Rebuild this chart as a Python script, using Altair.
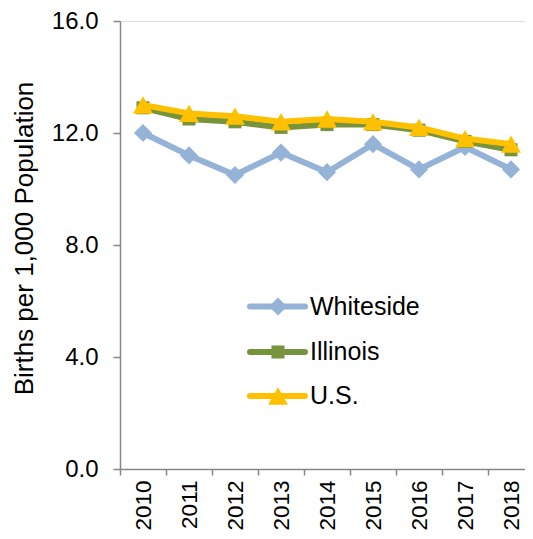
import altair as alt
import pandas as pd

years = ["2010", "2011", "2012", "2013", "2014", "2015", "2016", "2017", "2018"]
whiteside = [12.0, 11.2, 10.5, 11.3, 10.6, 11.6, 10.7, 11.5, 10.7]
illinois = [12.9, 12.5, 12.4, 12.2, 12.3, 12.3, 12.1, 11.7, 11.4]
us = [13.0, 12.7, 12.6, 12.4, 12.5, 12.4, 12.2, 11.8, 11.6]

series_names = ["Whiteside", "Illinois", "U.S."]
series_values = [whiteside, illinois, us]
series_colors = ["#95B3D7", "#77933C", "#FFC000"]
series_shapes = ["diamond", "square", "triangle-up"]
marker_sizes = [330, 170, 400]
y_ticks = [0, 4, 8, 12, 16]
y_title = "Births per 1,000 Population"

FONT = "Liberation Sans"
AXIS_GREY = "#868686"

rows = []
for name, vals in zip(series_names, series_values):
    for yr, v in zip(years, vals):
        rows.append({"year": yr, "series": name, "value": v})
df = pd.DataFrame(rows)

x_enc = alt.X(
    "year:N",
    sort=years,
    scale=alt.Scale(type="band", domain=years, paddingInner=0, paddingOuter=0, range=[0, 414]),
    axis=alt.Axis(
        title=None,
        labelAngle=270,
        labelAlign="right",
        labelBaseline="middle",
        labelFont=FONT,
        labelFontSize=22.5,
        labelColor="black",
        labelPadding=5,
        tickBand="extent",
        tickSize=6,
        tickColor=AXIS_GREY,
        domainColor=AXIS_GREY,
        domainWidth=1.5,
        tickWidth=1.5,
        grid=False,
    ),
)
y_enc = alt.Y(
    "value:Q",
    scale=alt.Scale(domain=[0, 16], nice=False, zero=True),
    axis=alt.Axis(
        values=y_ticks,
        format=".1f",
        title=y_title,
        titleFont=FONT,
        titleFontSize=26,
        titleFontWeight="normal",
        titleColor="black",
        titleAngle=270,
        titleAlign="center",
        titleBaseline="middle",
        titleX=-96,
        titleY=217,
        labelFont=FONT,
        labelFontSize=24,
        labelColor="black",
        labelPadding=15,
        tickSize=7,
        tickColor=AXIS_GREY,
        domainColor=AXIS_GREY,
        domainWidth=1.5,
        tickWidth=1.5,
        grid=False,
    ),
)

layers = []
for i, name in enumerate(series_names):
    base = alt.Chart(df).transform_filter(alt.datum.series == name)
    line = base.mark_line(
        color=series_colors[i], strokeWidth=6, strokeJoin="round", strokeCap="round"
    ).encode(x=x_enc, y=y_enc)
    pts = base.mark_point(
        filled=True, opacity=1, shape=series_shapes[i], size=marker_sizes[i], color=series_colors[i]
    ).encode(x=x_enc, y=y_enc)
    layers += [line, pts]

# in-plot legend
legend_y = [285.5, 331, 375]
for i, name in enumerate(series_names):
    ldf = pd.DataFrame({"name": [name]})
    lrule = alt.Chart(ldf).mark_rule(
        color=series_colors[i], strokeWidth=6, strokeCap="round"
    ).encode(x=alt.value(130), x2=alt.value(185), y=alt.value(legend_y[i]))
    lpt = alt.Chart(ldf).mark_point(
        filled=True, opacity=1, shape=series_shapes[i], size=marker_sizes[i], color=series_colors[i]
    ).encode(x=alt.value(158), y=alt.value(legend_y[i]))
    ltxt = alt.Chart(ldf).mark_text(
        align="left", baseline="middle", font=FONT, fontSize=25, color="black"
    ).encode(x=alt.value(190), y=alt.value(legend_y[i]), text="name:N")
    layers += [lrule, lpt, ltxt]

chart = alt.layer(*layers).properties(
    width=405,
    height=448,
    autosize=alt.AutoSizeParams(type="none"),
    padding={"left": 112, "top": 13, "right": 0, "bottom": 62},
).configure_view(stroke=None).configure(background="white")

chart.save("out.html", embed_options={"renderer": "svg", "actions": False})
